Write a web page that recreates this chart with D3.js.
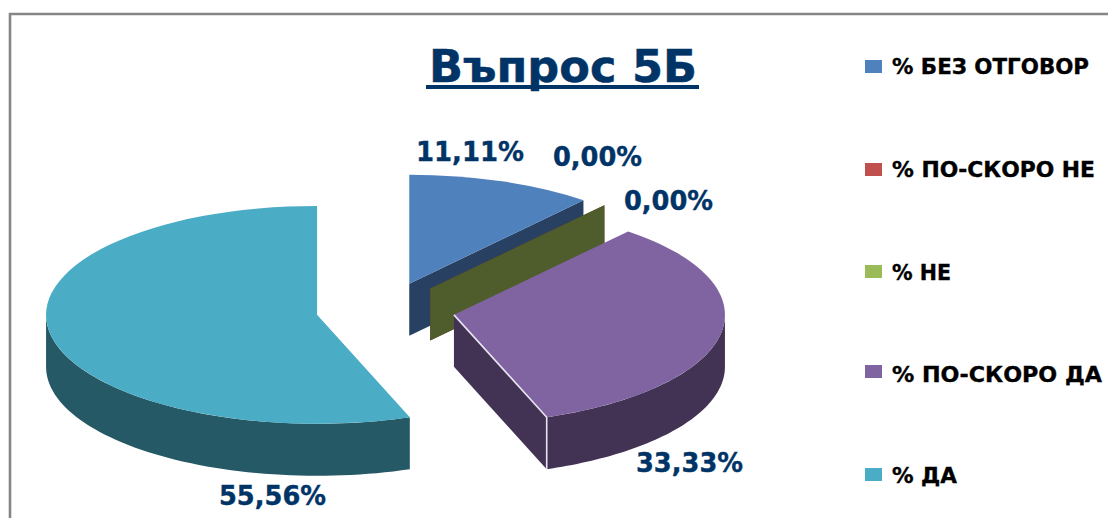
<!DOCTYPE html>
<html><head><meta charset="utf-8">
<style>html,body{margin:0;padding:0;background:#fff}svg{display:block}</style>
<script src="https://cdn.jsdelivr.net/npm/d3@7/dist/d3.min.js"></script>
</head><body><div id="chart"></div>
<script>
const categories = ["% БЕЗ ОТГОВОР","% ПО-СКОРО НЕ","% НЕ","% ПО-СКОРО ДА","% ДА"];
const values = [11.11,0,0,33.33,55.56];
const labels = ["11,11%","0,00%","0,00%","33,33%","55,56%"];
const topColors = ["#4f81bd","#c0504d","#9bbb59","#8064a2","#4bacc6"];
const sideColors = ["#284162","#652a28","#4f5c2c","#423354","#265966"];
const title = "Въпрос 5Б";

const W=1108,H=518;
const cx=385.5, cy=310, rx=271, k=0.402, depth=52, explode=69.5;
const font="'DejaVu Sans',Verdana,sans-serif";
const navy="#003366";

const svg=d3.select("#chart").append("svg").attr("width",W).attr("height",H);
svg.append("rect").attr("width",W).attr("height",H).attr("fill","#fff");
svg.append("path").attr("d",`M10,${H} V14 H${W}`).attr("fill","none").attr("stroke","#868686").attr("stroke-width",2.6);

const pie=d3.pie().sort(null).value(d=>d)(values);
const arc=d3.arc().innerRadius(0).outerRadius(rx);
const px=a=>rx*Math.sin(a), py=a=>-rx*k*Math.cos(a);
const line=d3.line();

pie.forEach((s,i)=>{
  const mid=(s.startAngle+s.endAngle)/2;
  const ox=cx+explode*Math.sin(mid), oy=cy-explode*k*Math.cos(mid);
  const g=svg.append("g").attr("transform",`translate(${ox},${oy})`);
  const face=a=>line([[0,0],[px(a),py(a)],[px(a),py(a)+depth],[0,depth]])+"Z";
  g.append("path").attr("d",face(s.endAngle)).attr("fill",sideColors[i]);
  // outer rim, only the part facing the viewer
  const a0=Math.max(s.startAngle,Math.PI/2), a1=Math.min(s.endAngle,Math.PI*1.5);
  if(a1>a0){
    const as=d3.range(0,61).map(t=>a0+(a1-a0)*t/60);
    const pts=as.map(a=>[px(a),py(a)]).concat(as.slice().reverse().map(a=>[px(a),py(a)+depth]));
    g.append("path").attr("d",line(pts)+"Z").attr("fill",sideColors[i]);
  }
  if(s.endAngle>s.startAngle){
    g.append("path").attr("d",arc(s)).attr("transform",`scale(1,${k})`).attr("fill",topColors[i]);
  }
  if(i===3){
    // pale highlight on the visible cut edge
    const a=s.endAngle;
    g.append("path").attr("d",line([[0,0],[px(a),py(a)],[px(a),py(a)+depth]]))
      .attr("fill","none").attr("stroke","#e8e4ee").attr("stroke-width",1.6);
  }
});

// title
svg.append("text").attr("x",429).attr("y",81.5)
  .attr("font-family",font).attr("font-weight","bold").attr("font-size",44).attr("fill",navy)
  .attr("stroke",navy).attr("stroke-width",0.5)
  .attr("textLength",268).attr("lengthAdjust","spacingAndGlyphs").text(title);
svg.append("rect").attr("x",426).attr("y",85).attr("width",273).attr("height",4).attr("fill",navy);

// data labels
const labelPos=[[416,160.5,108],[553,165.5,89],[624,209.5,89],[636,472,107],[219,505,107]];
svg.selectAll("text.dl").data(labels).join("text").attr("class","dl")
  .attr("x",(d,i)=>labelPos[i][0]).attr("y",(d,i)=>labelPos[i][1])
  .attr("font-family",font).attr("font-weight","bold").attr("font-size",27).attr("fill",navy)
  .attr("stroke",navy).attr("stroke-width",0.4)
  .attr("textLength",(d,i)=>labelPos[i][2]).attr("lengthAdjust","spacingAndGlyphs").text(d=>d);

// legend
const swatchTop=[60,163,265,365,468];
const baselines=[74,177,280,382,483];
const lens=[197,203,59,210,65];
const lg=svg.selectAll("g.lg").data(categories).join("g").attr("class","lg");
lg.append("rect").attr("x",865).attr("y",(d,i)=>swatchTop[i]).attr("width",17).attr("height",13).attr("fill",(d,i)=>topColors[i]);
lg.append("text").attr("x",892).attr("y",(d,i)=>baselines[i]).attr("font-family",font).attr("font-weight","bold")
  .attr("font-size",20.5).attr("fill","#000").attr("stroke","#000").attr("stroke-width",0.35)
  .attr("textLength",(d,i)=>lens[i]).attr("lengthAdjust","spacingAndGlyphs").text(d=>d);
</script></body></html>
